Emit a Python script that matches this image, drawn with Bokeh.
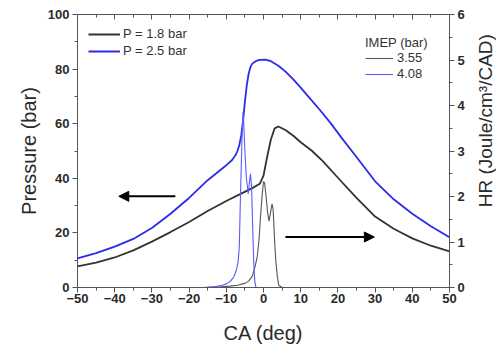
import math
from bokeh.plotting import figure
from bokeh.layouts import row
from bokeh.models import (LinearAxis, Range1d, SingleIntervalTicker, Legend,
                          LegendItem, Arrow, NormalHead, Label, Grid)
from bokeh.embed import file_html
from bokeh.resources import INLINE

# ---------------- data ----------------
ca_p18 = [-50, -45, -40, -35, -30, -25, -20, -15, -10, -6, -3, -1, 0, 1, 2, 3, 4,
          6, 8, 10, 13, 16, 20, 25, 30, 35, 40, 45, 50]
p_18 = [7.7, 9.1, 11.0, 13.6, 16.8, 20.3, 24.0, 28.0, 31.7, 34.4, 36.4, 38.0, 41.0,
        48.0, 54.3, 58.3, 59.0, 57.6, 55.6, 53.2, 50.1, 46.2, 40.2, 32.8, 26.0,
        21.5, 18.0, 15.3, 13.2]

ca_p25 = [-50, -45, -40, -35, -30, -25, -20, -15, -12, -10, -8.5, -7.5, -7, -6.5,
          -6, -5.5, -5, -4.5, -4, -3.5, -3, -2, -1, 0.5, 2, 4, 6, 8, 10, 12, 15,
          18, 21, 25, 30, 35, 40, 45, 50]
p_25 = [10.7, 12.6, 15.0, 17.8, 21.8, 27.0, 32.8, 39.3, 42.6, 44.8, 46.6, 48.5,
        50.0, 52.2, 55.5, 61.0, 68.0, 74.0, 78.3, 80.8, 82.0, 83.0, 83.4, 83.5,
        82.9, 81.2, 79.0, 76.2, 73.2, 70.0, 65.3, 60.3, 54.8, 47.8, 38.9, 32.3,
        27.0, 22.4, 18.4]

ca_hr355 = [-50, -16, -12, -9, -7, -5, -4, -3, -2.3, -1.7, -1.2, -0.8, -0.4, 0,
            0.3, 0.7, 1.1, 1.5, 1.9, 2.3, 2.6, 3.0, 3.3, 3.7, 4.1, 5, 50]
hr_355 = [0, 0, 0.01, 0.03, 0.05, 0.09, 0.14, 0.25, 0.45, 0.67, 1.05, 1.55, 2.0,
          2.33, 2.3, 2.0, 1.65, 1.46, 1.65, 1.84, 1.7, 1.0, 0.6, 0.25, 0.05, 0, 0]

ca_hr408 = [-50, -16, -13, -11, -10, -9, -8, -7.3, -6.8, -6.5, -6.2, -5.9, -5.7,
            -5.5, -5.3, -5.0, -4.6, -4.1, -3.8, -3.5, -3.2, -2.9, -2.6, -2.3, -2.0, 50]
hr_408 = [0, 0, 0.02, 0.05, 0.08, 0.13, 0.23, 0.38, 0.58, 0.9, 1.98, 2.9, 3.5,
          3.85, 3.6, 3.0, 2.4, 2.06, 2.3, 2.5, 2.2, 1.3, 0.5, 0.1, 0, 0]

legend_p = ["P = 1.8 bar", "P = 2.5 bar"]
legend_imep = ["3.55", "4.08"]
imep_title = "IMEP (bar)"
x_title = "CA (deg)"
y_title = "Pressure (bar)"
y2_title = "HR (Joule/cm\u00b3/CAD)"

# arrows: [x_start, x_end, y]
arrow_left = [-23.7, -38.9, 33.4]    # on pressure axis
arrow_right = [5.9, 29.8, 1.11]      # on HR axis

FONT = "Liberation Sans"
AX = "#555555"
TXT = "#2a2a2a"

p = figure(width=470, height=347, output_backend="svg", toolbar_location=None,
           x_range=Range1d(-50, 50), y_range=Range1d(0, 100),
           min_border_left=77, min_border_right=21, min_border_top=14,
           min_border_bottom=60)
p.extra_y_ranges = {"hr": Range1d(0, 6)}
p.xgrid.visible = False
p.ygrid.visible = False
p.outline_line_color = AX
p.background_fill_color = "white"
p.border_fill_color = "white"


def style_axis(ax, inside=False, labels=True):
    ax.axis_line_color = AX
    ax.major_tick_line_color = AX
    ax.minor_tick_line_color = AX
    if inside:
        ax.major_tick_in, ax.major_tick_out = 5, 0
        ax.minor_tick_in, ax.minor_tick_out = 3, 0
    else:
        ax.major_tick_in, ax.major_tick_out = 0, 5
        ax.minor_tick_in, ax.minor_tick_out = 0, 3
    if labels:
        ax.major_label_text_font = FONT
        ax.major_label_text_font_style = "bold"
        ax.major_label_text_font_size = "13px"
        ax.major_label_text_color = TXT
        ax.major_label_standoff = 3
    else:
        ax.major_label_text_font_size = "0px"
        ax.major_label_text_color = None
        ax.major_label_standoff = 0
    ax.axis_label_text_font = FONT
    ax.axis_label_text_font_style = "normal"
    ax.axis_label_text_font_size = "20px"
    ax.axis_label_text_color = TXT


xax = p.xaxis[0]
xax.ticker = SingleIntervalTicker(interval=10, num_minor_ticks=2)
style_axis(xax)
xax.major_label_standoff = 1
xax.axis_label = x_title
xax.axis_label_standoff = 16

yax = p.yaxis[0]
yax.ticker = SingleIntervalTicker(interval=20, num_minor_ticks=2)
style_axis(yax)
yax.axis_label = y_title
yax.axis_label_standoff = 5

top = LinearAxis(ticker=SingleIntervalTicker(interval=10, num_minor_ticks=2))
style_axis(top, inside=True, labels=False)
p.add_layout(top, "above")

rax = LinearAxis(y_range_name="hr",
                 ticker=SingleIntervalTicker(interval=1, num_minor_ticks=2))
style_axis(rax)
p.add_layout(rax, "right")

r1 = p.line(ca_p18, p_18, line_color="#333333", line_width=1.8)
r2 = p.line(ca_p25, p_25, line_color="#2b2bea", line_width=1.8)
r3 = p.line(ca_hr355, hr_355, y_range_name="hr", line_color="#555555", line_width=1.1)
r4 = p.line(ca_hr408, hr_408, y_range_name="hr", line_color="#5a5aff", line_width=1.1)

p.add_layout(Arrow(end=NormalHead(size=10, fill_color="black", line_color="black"),
                   x_start=arrow_left[0], x_end=arrow_left[1],
                   y_start=arrow_left[2], y_end=arrow_left[2],
                   line_color="black", line_width=2))
p.add_layout(Arrow(end=NormalHead(size=10, fill_color="black", line_color="black"),
                   x_start=arrow_right[0], x_end=arrow_right[1],
                   y_start=arrow_right[2], y_end=arrow_right[2],
                   y_range_name="hr", line_color="black", line_width=2))


def style_legend(lg):
    lg.border_line_color = None
    lg.background_fill_alpha = 0
    lg.padding = 0
    lg.margin = 0
    lg.spacing = 2
    lg.label_height = 14
    lg.glyph_height = 14
    lg.label_text_font = FONT
    lg.label_text_font_size = "13px"
    lg.label_text_color = "#333333"


leg1 = Legend(items=[LegendItem(label=legend_p[0], renderers=[r1]),
                     LegendItem(label=legend_p[1], renderers=[r2])],
              location=(11, 229))
style_legend(leg1)
leg1.glyph_width = 32
leg1.label_standoff = 3
p.add_layout(leg1)

leg2 = Legend(items=[LegendItem(label=legend_imep[0], renderers=[r3]),
                     LegendItem(label=legend_imep[1], renderers=[r4])],
              title=imep_title, location=(288, 206))
style_legend(leg2)
leg2.spacing = 1
leg2.glyph_width = 28
leg2.label_standoff = 4
leg2.title_text_font = FONT
leg2.title_text_font_size = "13px"
leg2.title_text_font_style = "normal"
leg2.title_text_color = "#333333"
leg2.title_standoff = 0
p.add_layout(leg2)

# narrow strip on the right carrying the HR axis title (reads bottom-to-top)
side = figure(width=26, height=347, output_backend="svg", toolbar_location=None,
              x_range=Range1d(0, 26), y_range=Range1d(0, 347),
              min_border=0, x_axis_location=None, y_axis_location=None)
side.outline_line_color = None
side.background_fill_color = "white"
side.border_fill_color = "white"
for obj in list(side.center):
    if isinstance(obj, Grid):
        obj.visible = False
        obj.grid_line_color = None
side.add_layout(Label(x=15, y=212, text=y2_title, angle=math.pi / 2,
                      text_align="center", text_baseline="middle",
                      text_font=FONT, text_font_size="19px", text_color=TXT))

layout = row(p, side, spacing=0)
open("out.html", "w").write(file_html(layout, INLINE))
